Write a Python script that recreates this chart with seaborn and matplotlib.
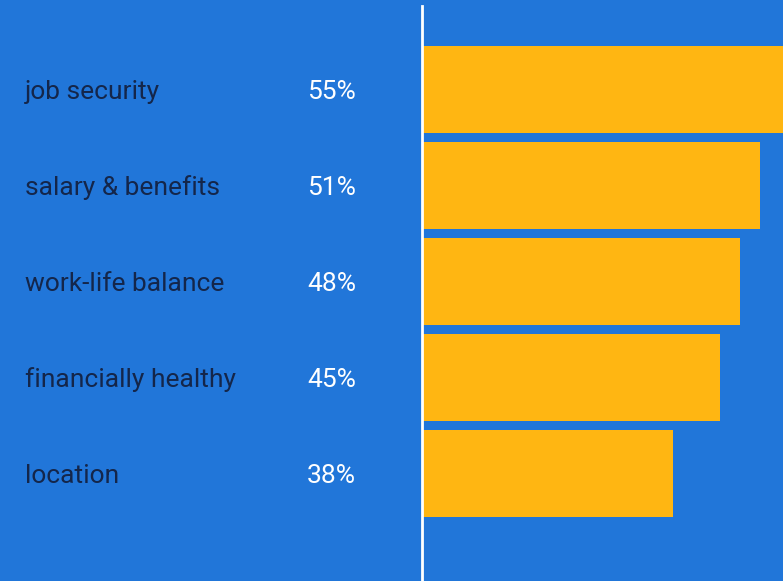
import matplotlib
matplotlib.use("Agg")
import matplotlib.pyplot as plt
import seaborn as sns
import pandas as pd

categories = ["job security", "salary & benefits", "work-life balance", "financially healthy", "location"]
values = [55, 51, 48, 45, 38]
value_labels = ["55%", "51%", "48%", "45%", "38%"]

BG = "#2176D9"
BAR = "#FFB612"
NAVY = "#14264A"

sns.set_theme(style="white")
plt.rcParams["font.family"] = ["Roboto", "DejaVu Sans"]

df = pd.DataFrame({"category": categories, "value": values})

W, H = 783, 581
fig = plt.figure(figsize=(W / 100, H / 100), dpi=100, facecolor=BG)
ax_left = 421.5 / W
ax = fig.add_axes([ax_left, 0, 1 - ax_left, (H - 6) / H])
ax.set_facecolor(BG)

sns.barplot(data=df, y="category", x="value", orient="h", color=BAR,
            width=0.906, saturation=1, ax=ax, edgecolor="none", linewidth=0)

pitch = 95.9
top_px = 6
y_top = (top_px - 89.5) / pitch
y_bot = (H - 89.5) / pitch
ax.set_ylim(y_bot, y_top)
ax.set_xlim(0, 361 / 6.62)

for s in ["top", "right", "bottom"]:
    ax.spines[s].set_visible(False)
ax.spines["left"].set_color("white")
ax.spines["left"].set_linewidth(2.0)
ax.set_xticks([])
ax.set_yticks([])
ax.set_xlabel("")
ax.set_ylabel("")

for i, (cat, lab) in enumerate(zip(categories, value_labels)):
    ypix = H - (92 + pitch * i)
    fig.text(25 / W, ypix / H, cat, color=NAVY, fontsize=19, va="center", ha="left")
    fig.text(307 / W, ypix / H, lab, color="white", fontsize=19, va="center", ha="left")

fig.savefig("out.png", dpi=100, facecolor=BG)
